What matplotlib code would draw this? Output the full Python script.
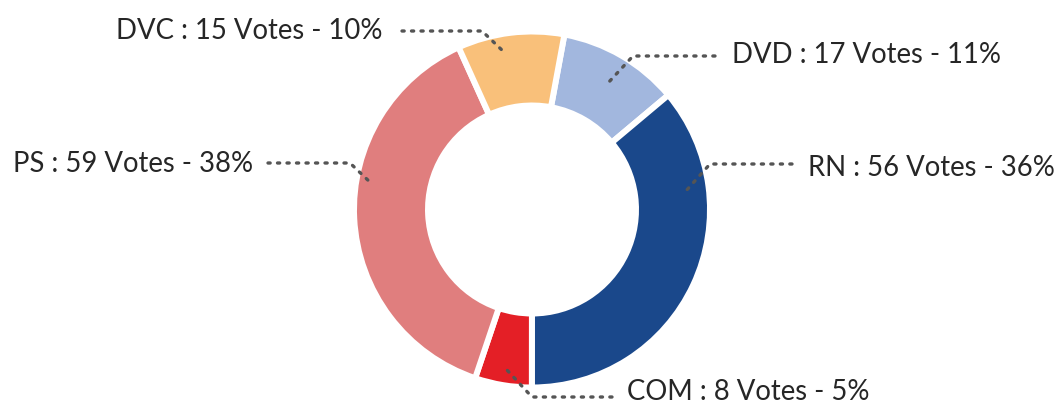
import matplotlib
matplotlib.use("Agg")
import matplotlib.pyplot as plt

# Data
parties = ["DVD", "RN", "COM", "PS", "DVC"]
votes = [17, 56, 8, 59, 15]
colors = ["#a2b7de", "#1a488b", "#e41f26", "#e07e7e", "#f9c07a"]

total = sum(votes)
labels = [f"{p} : {v} Votes - {round(100 * v / total)}%" for p, v in zip(parties, votes)]

W, H = 1059, 403
fig = plt.figure(figsize=(W / 100, H / 100), dpi=100)
ax = fig.add_axes([0, 0, 1, 1])

cx, cy = 532, H - 209.5
R = 178
ax.pie(votes, colors=colors, center=(cx, cy), radius=R, startangle=79.5,
       counterclock=False,
       wedgeprops=dict(width=74, edgecolor="white", linewidth=4.3))
ax.set_xlim(0, W)
ax.set_ylim(0, H)
ax.set_aspect("equal")
ax.axis("off")

# label layout (pixel coords, y from top): text anchor, ha, leader polyline
layout = {
    "DVD": ((732, 63), "left", [(715, 56), (633, 56), (608, 83)]),
    "RN": ((808, 176), "left", [(792, 164), (710, 164), (685, 192)]),
    "COM": ((627, 400), "left", [(612, 397), (532, 397), (507, 370)]),
    "PS": ((253, 172), "right", [(268, 163), (350, 163), (373, 185)]),
    "DVC": ((383, 39), "right", [(402, 31), (482, 31), (505, 53)]),
}

for p, lab in zip(parties, labels):
    (tx, ty), ha, pts = layout[p]
    xs = [x for x, _ in pts]
    ys = [H - y for _, y in pts]
    ax.plot(xs, ys, color="#555555", lw=2.4, linestyle=(0, (0.65, 2.2)),
            dash_capstyle="round", solid_capstyle="round", clip_on=False)
    ax.text(tx, H - ty, lab, ha=ha, va="baseline", fontsize=19.8,
            family=["Lato", "DejaVu Sans"], color="#262626")

fig.savefig("out.png", dpi=100)
